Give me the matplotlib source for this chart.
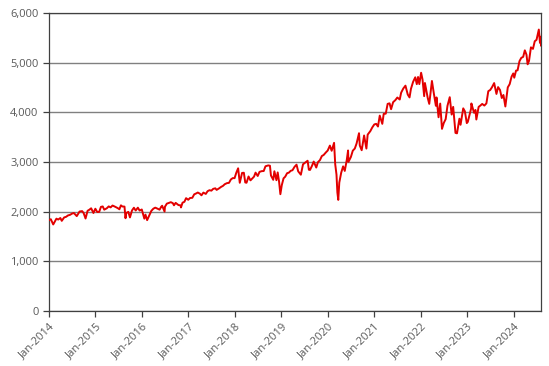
import matplotlib
matplotlib.use("Agg")
import matplotlib.pyplot as plt
import matplotlib.dates as mdates
import pandas as pd

# index level (approximate, roughly semi-monthly)
dates = [
    "2014-01-02", "2014-01-15", "2014-02-03", "2014-02-28", "2014-03-14", "2014-03-31", "2014-04-11", "2014-04-30",
    "2014-05-15", "2014-05-30", "2014-06-16", "2014-06-30", "2014-07-15", "2014-07-31", "2014-08-07", "2014-08-29",
    "2014-09-18", "2014-09-30", "2014-10-15", "2014-10-31", "2014-11-14", "2014-11-28", "2014-12-16", "2014-12-31",
    "2015-01-15", "2015-01-30", "2015-02-13", "2015-02-27", "2015-03-11", "2015-03-31", "2015-04-15", "2015-04-30",
    "2015-05-15", "2015-05-29", "2015-06-15", "2015-06-30", "2015-07-08", "2015-07-20", "2015-07-31", "2015-08-17",
    "2015-08-25", "2015-08-31", "2015-09-16", "2015-09-29", "2015-10-15", "2015-10-30", "2015-11-13", "2015-11-30",
    "2015-12-14", "2015-12-31", "2016-01-20", "2016-01-29", "2016-02-11", "2016-02-29", "2016-03-15", "2016-03-31",
    "2016-04-15", "2016-04-29", "2016-05-19", "2016-05-31", "2016-06-08", "2016-06-27", "2016-06-30", "2016-07-15",
    "2016-07-29", "2016-08-15", "2016-08-31", "2016-09-09", "2016-09-22", "2016-10-14", "2016-10-31", "2016-11-03",
    "2016-11-15", "2016-11-30", "2016-12-13", "2016-12-30", "2017-01-13", "2017-01-31", "2017-02-15", "2017-02-28",
    "2017-03-15", "2017-03-31", "2017-04-13", "2017-04-28", "2017-05-17", "2017-05-31", "2017-06-15", "2017-06-30",
    "2017-07-14", "2017-07-31", "2017-08-10", "2017-08-31", "2017-09-15", "2017-09-29", "2017-10-13", "2017-10-31",
    "2017-11-15", "2017-11-30", "2017-12-15", "2017-12-29", "2018-01-12", "2018-01-26", "2018-02-08", "2018-02-26",
    "2018-03-12", "2018-03-23", "2018-04-02", "2018-04-18", "2018-05-03", "2018-05-31", "2018-06-12", "2018-06-29",
    "2018-07-13", "2018-07-31", "2018-08-15", "2018-08-29", "2018-09-20", "2018-10-03", "2018-10-11", "2018-10-29",
    "2018-11-07", "2018-11-23", "2018-12-03", "2018-12-14", "2018-12-24", "2019-01-04", "2019-01-18", "2019-01-31",
    "2019-02-15", "2019-02-28", "2019-03-15", "2019-03-29", "2019-04-15", "2019-04-30", "2019-05-13", "2019-06-03",
    "2019-06-20", "2019-07-26", "2019-08-05", "2019-08-14", "2019-08-30", "2019-09-12", "2019-10-02", "2019-10-15",
    "2019-10-31", "2019-11-15", "2019-11-29", "2019-12-16", "2019-12-31", "2020-01-17", "2020-01-31", "2020-02-19",
    "2020-02-28", "2020-03-09", "2020-03-16", "2020-03-23", "2020-03-31", "2020-04-15", "2020-04-30", "2020-05-13",
    "2020-05-29", "2020-06-08", "2020-06-11", "2020-06-30", "2020-07-15", "2020-07-31", "2020-08-14", "2020-09-02",
    "2020-09-08", "2020-09-23", "2020-10-12", "2020-10-30", "2020-11-09", "2020-11-30", "2020-12-15", "2020-12-31",
    "2021-01-15", "2021-01-29", "2021-02-12", "2021-03-04", "2021-03-15", "2021-03-31", "2021-04-15", "2021-04-30",
    "2021-05-12", "2021-05-28", "2021-06-15", "2021-06-30", "2021-07-19", "2021-07-30", "2021-08-16", "2021-09-02",
    "2021-09-20", "2021-10-04", "2021-10-15", "2021-11-01", "2021-11-18", "2021-11-30", "2021-12-10", "2021-12-20",
    "2022-01-03", "2022-01-14", "2022-01-27", "2022-02-02", "2022-02-24", "2022-03-08", "2022-03-29", "2022-04-12",
    "2022-04-29", "2022-05-04", "2022-05-20", "2022-06-02", "2022-06-16", "2022-06-30", "2022-07-15", "2022-07-29",
    "2022-08-16", "2022-08-31", "2022-09-12", "2022-09-30", "2022-10-12", "2022-10-31", "2022-11-09", "2022-11-30",
    "2022-12-13", "2022-12-28", "2023-01-05", "2023-01-31", "2023-02-02", "2023-02-23", "2023-03-06", "2023-03-13",
    "2023-03-31", "2023-04-14", "2023-04-28", "2023-05-15", "2023-05-31", "2023-06-15", "2023-06-30", "2023-07-14",
    "2023-07-31", "2023-08-18", "2023-08-31", "2023-09-15", "2023-09-29", "2023-10-12", "2023-10-27", "2023-11-15",
    "2023-11-30", "2023-12-15", "2023-12-28", "2024-01-05", "2024-01-19", "2024-01-31", "2024-02-15", "2024-02-29",
    "2024-03-15", "2024-03-28", "2024-04-10", "2024-04-19", "2024-04-30", "2024-05-15", "2024-05-31", "2024-06-14",
    "2024-06-28", "2024-07-16", "2024-07-25", "2024-07-31", "2024-08-02",
]
values = [
    1831, 1848, 1742, 1859, 1841, 1872, 1815, 1884,
    1896, 1924, 1937, 1960, 1973, 1931, 1910, 2003,
    2011, 1972, 1862, 2018, 2039, 2068, 1973, 2059,
    1993, 1995, 2096, 2105, 2040, 2068, 2106, 2086,
    2123, 2107, 2085, 2063, 2047, 2128, 2104, 2102,
    1868, 1972, 1996, 1884, 2024, 2079, 2023, 2080,
    2022, 2044, 1859, 1940, 1829, 1932, 2016, 2060,
    2081, 2065, 2040, 2097, 2119, 2001, 2099, 2162,
    2174, 2191, 2171, 2128, 2177, 2133, 2126, 2085,
    2180, 2199, 2272, 2239, 2275, 2279, 2349, 2364,
    2385, 2363, 2329, 2384, 2357, 2412, 2432, 2423,
    2459, 2470, 2438, 2472, 2500, 2519, 2553, 2575,
    2579, 2648, 2676, 2674, 2786, 2873, 2581, 2780,
    2783, 2588, 2582, 2708, 2630, 2705, 2786, 2718,
    2801, 2816, 2818, 2914, 2931, 2925, 2728, 2641,
    2814, 2633, 2790, 2600, 2351, 2532, 2671, 2704,
    2775, 2784, 2822, 2834, 2905, 2946, 2812, 2744,
    2954, 3025, 2844, 2840, 2926, 3009, 2888, 2996,
    3038, 3120, 3141, 3191, 3231, 3330, 3226, 3386,
    2954, 2747, 2386, 2237, 2585, 2784, 2912, 2820,
    3044, 3232, 3002, 3100, 3227, 3271, 3373, 3580,
    3332, 3237, 3534, 3270, 3551, 3622, 3695, 3756,
    3768, 3714, 3934, 3768, 3969, 3973, 4170, 4181,
    4063, 4204, 4247, 4298, 4258, 4395, 4480, 4537,
    4358, 4300, 4471, 4614, 4705, 4567, 4712, 4568,
    4797, 4663, 4326, 4590, 4289, 4170, 4632, 4397,
    4132, 4300, 3901, 4176, 3667, 3785, 3863, 4130,
    4305, 3955, 4110, 3586, 3577, 3872, 3749, 4080,
    4019, 3783, 3808, 4077, 4179, 3991, 4048, 3855,
    4109, 4137, 4169, 4136, 4180, 4426, 4450, 4505,
    4589, 4370, 4508, 4450, 4288, 4349, 4117, 4502,
    4568, 4719, 4783, 4697, 4840, 4846, 5030, 5096,
    5117, 5248, 5160, 4967, 5036, 5308, 5278, 5431,
    5460, 5667, 5399, 5522, 5346,
]

y_ticks = [0, 1000, 2000, 3000, 4000, 5000, 6000]
x_tick_years = list(range(2014, 2025))

s = pd.Series(values, index=pd.to_datetime(dates))

plt.rcParams['font.family'] = ['Open Sans', 'DejaVu Sans']
fig = plt.figure(figsize=(5.49, 3.66), dpi=100)
ax = fig.add_axes([0.0893, 0.1503, 0.8961, 0.8142])

ax.plot(s.index, s.values, color='#e30000', linewidth=1.4, zorder=3)

ax.set_ylim(0, 6000)
ax.set_yticks(y_ticks)
ax.yaxis.set_major_formatter(matplotlib.ticker.FuncFormatter(lambda v, p: f"{int(v):,}"))
ax.set_xlim(pd.Timestamp("2014-01-01"), pd.Timestamp("2024-08-02"))
ax.set_xticks([pd.Timestamp(f"{y}-01-01") for y in x_tick_years])
ax.xaxis.set_major_formatter(mdates.DateFormatter("%b-%Y"))
plt.setp(ax.get_xticklabels(), rotation=45, ha='right', rotation_mode='anchor')

ax.grid(axis='y', color='#808080', linewidth=1.0)
ax.set_axisbelow(True)
for side in ['left', 'bottom', 'top', 'right']:
    ax.spines[side].set_color('#404040')
    ax.spines[side].set_linewidth(0.9)
ax.tick_params(axis='both', colors='#404040', labelcolor='#595959', labelsize=8, length=4, width=0.9)

fig.savefig("out.png", dpi=100)
